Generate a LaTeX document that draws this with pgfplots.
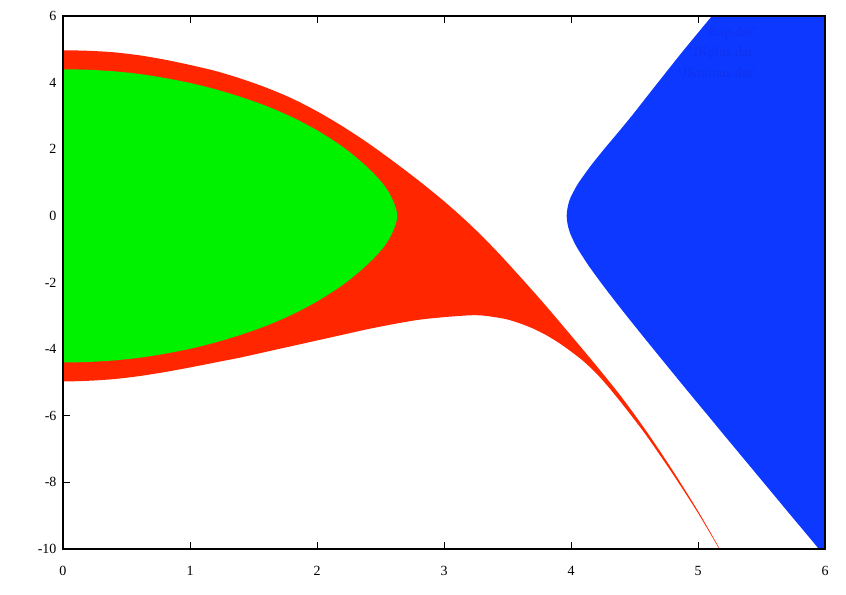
\documentclass[border=0pt]{standalone}
\usepackage{pgfplots}
\pgfplotsset{compat=1.18}
\usepackage{fontspec}
\setmainfont{Liberation Serif}
\definecolor{gpred}{RGB}{255,38,0}
\definecolor{gpgreen}{RGB}{0,242,0}
\definecolor{gpblue}{RGB}{12,56,255}
\definecolor{gpkeytext}{RGB}{14,50,240}
\begin{document}
\begin{tikzpicture}
\begin{axis}[
  scale only axis,
  width=762pt, height=533pt,
  xmin=0, xmax=6, ymin=-10, ymax=6,
  xtick={0,1,2,3,4,5,6},
  ytick={-10,-8,-6,-4,-2,0,2,4,6},
  xticklabels={0,1,2,3,4,5,6},
  yticklabels={-10,-8,-6,-4,-2,0,2,4,6},
  xtick pos=both, ytick pos=left,
  tick align=inside,
  major tick length=7pt,
  tick style={black, line width=0.9pt},
  axis line style={black, line width=1.1pt},
  every tick label/.append style={font=\fontsize{14}{16}\selectfont, text=black},
  xticklabel style={yshift=-14pt},
  yticklabel style={xshift=-3pt},
  clip=true,
]
% red region (upper edge, then lower edge back)
\addplot[draw=none, fill=gpred, smooth, tension=0.5] coordinates {
(-0.2,4.955) (0,4.97) (0.2,4.955) (0.4,4.91) (0.6,4.82) (0.8,4.69) (1.0,4.53) (1.2,4.35)
(1.4,4.12) (1.6,3.85) (1.8,3.53) (2.0,3.14) (2.2,2.69) (2.4,2.19) (2.6,1.64) (2.8,1.06)
(3.0,0.44) (3.2,-0.24) (3.4,-1.00) (3.6,-1.83) (3.8,-2.69) (4.0,-3.59) (4.2,-4.50)
(4.4,-5.45) (4.6,-6.50) (4.8,-7.64) (5.0,-8.86) (5.16,-9.92) (5.2,-10.2)
(5.16,-9.95) (5.0,-8.92) (4.8,-7.74) (4.6,-6.63) (4.5,-6.12) (4.4,-5.63) (4.3,-5.16)
(4.2,-4.73) (4.1,-4.37) (4.0,-4.07) (3.9,-3.80) (3.8,-3.57) (3.7,-3.38) (3.6,-3.23)
(3.5,-3.11) (3.4,-3.04) (3.3,-2.99) (3.2,-2.985) (3.0,-3.04) (2.8,-3.12) (2.6,-3.25)
(2.4,-3.40) (2.2,-3.57) (2.0,-3.74) (1.8,-3.91) (1.6,-4.08) (1.4,-4.25) (1.2,-4.40)
(1.0,-4.55) (0.8,-4.69) (0.6,-4.81) (0.4,-4.90) (0.2,-4.95) (0,-4.97) (-0.2,-4.95)
} -- cycle;
% green region
\addplot[draw=none, fill=gpgreen, smooth, tension=0.5] coordinates {
(-0.2,4.385) (0,4.40) (0.2,4.385) (0.4,4.34) (0.6,4.26) (0.8,4.14) (1.0,3.99) (1.2,3.80)
(1.4,3.57) (1.6,3.30) (1.8,2.97) (2.0,2.57) (2.2,2.08) (2.35,1.62) (2.45,1.26) (2.52,0.96)
(2.57,0.68) (2.605,0.40) (2.625,0.18) (2.632,0)
(2.625,-0.18) (2.605,-0.40) (2.57,-0.68) (2.52,-0.96) (2.45,-1.26) (2.35,-1.62) (2.2,-2.08)
(2.0,-2.57) (1.8,-2.97) (1.6,-3.30) (1.4,-3.57) (1.2,-3.80) (1.0,-3.99) (0.8,-4.14)
(0.6,-4.26) (0.4,-4.34) (0.2,-4.385) (0,-4.40) (-0.2,-4.385)
} -- cycle;
% blue region
\addplot[draw=none, fill=gpblue, smooth, tension=0.5] coordinates {
(5.218,6.5) (5.110,6.0) (5.001,5.5) (4.893,5.0) (4.788,4.5) (4.684,4.0) (4.581,3.5)
(4.478,3.0) (4.370,2.5) (4.260,2.0) (4.155,1.5) (4.061,1.0) (4.023,0.75) (3.991,0.5)
(3.973,0.25) (3.966,0) (3.973,-0.25) (3.991,-0.5) (4.020,-0.75) (4.055,-1.0)
(4.140,-1.5) (4.235,-2.0) (4.335,-2.5) (4.438,-3.0) (4.543,-3.5) (4.649,-4.0)
(4.756,-4.5) (4.863,-5.0) (4.971,-5.5) (5.080,-6.0) (5.188,-6.5) (5.297,-7.0)
(5.406,-7.5) (5.515,-8.0) (5.624,-8.5) (5.733,-9.0) (5.843,-9.5) (5.952,-10.0)
(6.062,-10.5) (6.5,-10.5) (6.5,6.5)
} -- cycle;
% key text hidden behind the blue fill
\node[anchor=east, text=gpkeytext, font=\fontsize{14}{16}\selectfont, inner sep=0pt] at (axis cs:5.465,5.49) {'disp.dat'};
\node[anchor=east, text=gpkeytext, font=\fontsize{14}{16}\selectfont, inner sep=0pt] at (axis cs:5.465,4.89) {'JKplus.dat'};
\node[anchor=east, text=gpkeytext, font=\fontsize{14}{16}\selectfont, inner sep=0pt] at (axis cs:5.465,4.29) {'JKminus.dat'};
% border on top
\draw[black, line width=1.1pt] (rel axis cs:0,0) rectangle (rel axis cs:1,1);
\end{axis}
\path (current axis.south west) +(-63pt,-45pt) (current axis.north east) +(21pt,16pt);
\end{tikzpicture}
\end{document}
